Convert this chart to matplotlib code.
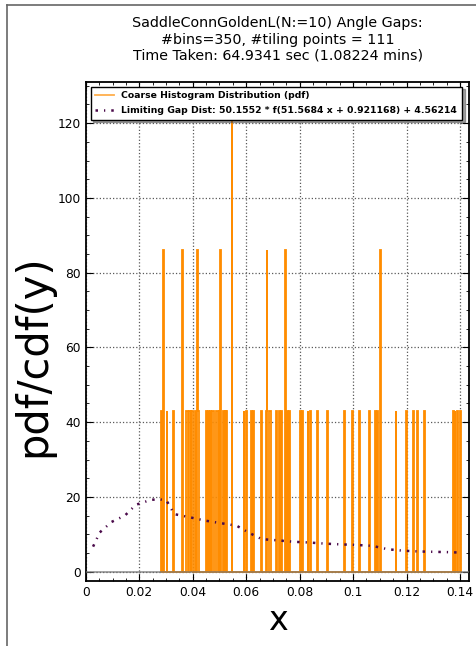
import numpy as np
import matplotlib
matplotlib.use("Agg")
import matplotlib.pyplot as plt
from matplotlib.ticker import AutoMinorLocator
from matplotlib.lines import Line2D

# gap positions (one entry per gap, repeats = taller bars)
gaps = [0.0283, 0.0290, 0.0290, 0.0303, 0.0330, 0.0360, 0.0360, 0.0378, 0.0382,
        0.0386, 0.0390, 0.0395, 0.0400, 0.0410, 0.0419, 0.0419, 0.0422, 0.0451,
        0.0457, 0.0462, 0.0467, 0.0472, 0.0478, 0.0488, 0.0493, 0.0498, 0.0505,
        0.0505, 0.0515, 0.0520, 0.0527, 0.0548, 0.0548, 0.0548, 0.0590, 0.0600,
        0.0620, 0.0627, 0.0660, 0.0675, 0.0679, 0.0679, 0.0686, 0.0692, 0.0712,
        0.0725, 0.0733, 0.0748, 0.0748, 0.0755, 0.0762, 0.0803, 0.0812, 0.0830,
        0.0842, 0.0865, 0.0906, 0.0970, 0.0998, 0.1022, 0.1060, 0.1084, 0.1090,
        0.1103, 0.1103, 0.1161, 0.1200, 0.1226, 0.1239, 0.1265, 0.1376, 0.1382,
        0.1390, 0.1402]
n_bins = 350
pdf_per_gap = 43.0

# limiting gap distribution curve
curve_x = [0.0027, 0.0052, 0.0096, 0.0146, 0.0187, 0.0243, 0.0273, 0.0302,
           0.0331, 0.0386, 0.0443, 0.0503, 0.0564, 0.0608, 0.0658, 0.0714,
           0.0776, 0.0836, 0.0895, 0.0955, 0.1013, 0.1072, 0.1130, 0.1188,
           0.1250, 0.1309, 0.1369, 0.1398]
curve_y = [6.7, 10.5, 13.3, 15.0, 17.9, 19.2, 19.4, 19.0,
           15.4, 14.6, 13.7, 13.0, 12.3, 10.5, 8.7, 8.4,
           8.0, 7.8, 7.5, 7.3, 7.15, 6.9, 6.0, 5.6,
           5.4, 5.3, 5.2, 5.1]

title = ("SaddleConnGoldenL(N:=10) Angle Gaps:\n"
         "#bins=350, #tiling points = 111\n"
         "Time Taken: 64.9341 sec (1.08224 mins)")
hist_label = "Coarse Histogram Distribution (pdf)"
curve_label = "Limiting Gap Dist: 50.1552 * f(51.5684 x + 0.921168) + 4.56214"

counts, edges = np.histogram(gaps, bins=n_bins)
pdf = counts * pdf_per_gap

fig = plt.figure(figsize=(4.77, 6.46), dpi=100)
ax = fig.add_axes([0.180, 0.1006, 0.804, 0.7724])

ax.stairs(pdf, edges, color="darkorange", lw=1.3, label=hist_label, zorder=3)
ln, = ax.plot(curve_x, curve_y, color="#4a0a4a", lw=1.8, linestyle="-.",
              label=curve_label, zorder=5)
ln.set_dashes([1, 2.4, 0.5, 2.4])
ax.axhline(0, color="0.45", lw=1.2, alpha=0.75, zorder=4)

ax.set_xlim(0, 0.1435)
ax.set_ylim(-2.5, 131)
ax.set_xticks([0, 0.02, 0.04, 0.06, 0.08, 0.1, 0.12, 0.14])
ax.set_xticklabels(["0", "0.02", "0.04", "0.06", "0.08", "0.1", "0.12", "0.14"])
ax.set_yticks([0, 20, 40, 60, 80, 100, 120])
ax.xaxis.set_minor_locator(AutoMinorLocator(4))
ax.yaxis.set_minor_locator(AutoMinorLocator(4))
ax.tick_params(which="both", direction="in", top=True, right=True, labelsize=8.8)
ax.tick_params(which="major", length=5)
ax.tick_params(which="minor", length=2.5)
ax.grid(True, color="0.35", linestyle=":", lw=0.9)
for s in ax.spines.values():
    s.set_linewidth(1.3)

ax.set_title(title, fontsize=10.3, pad=16)
ax.set_ylabel("pdf/cdf(y)", fontsize=30)
ax.yaxis.set_label_coords(-0.083, 0.451)
ax.set_xlabel("x", fontsize=24, labelpad=4)

leg = ax.legend(loc="upper left", prop={"weight": "bold", "size": 6.7},
                shadow=True, fancybox=False, framealpha=1, edgecolor="black",
                handlelength=2.0, borderaxespad=0.5, borderpad=0.5,
                labelspacing=0.6)
leg.get_frame().set_linewidth(1.0)
leg.get_lines()[0].set_alpha(0.7)

# outer frame seen at the left and top of the picture
fig.add_artist(Line2D([0.0147, 0.0147], [0, 0.992], color="0.4", lw=1.2))
fig.add_artist(Line2D([0.0147, 1.0], [0.992, 0.992], color="0.4", lw=1.2))

fig.savefig("out.png", dpi=100)
